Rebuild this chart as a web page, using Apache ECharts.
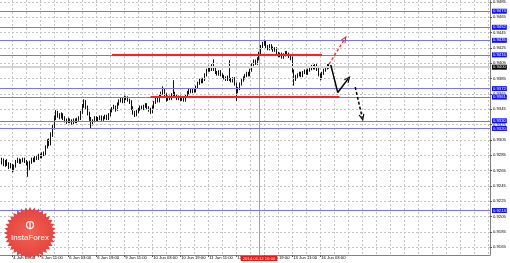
<!DOCTYPE html>
<html><head><meta charset="utf-8">
<script src="https://cdn.jsdelivr.net/npm/echarts@6/dist/echarts.min.js"></script>
<style>html,body{margin:0;padding:0;background:#fff}#c{width:510px;height:263px}</style>
</head><body><div id="c"></div>
<script>
// hourly candles [open, close, low, high]
const candles = [
[0.9274,0.9276,0.9270,0.9280],[0.9276,0.9279,0.9273,0.9282],[0.9279,0.9273,0.9271,0.9281],[0.9273,0.9277,0.9270,0.9279],
[0.9277,0.9274,0.9271,0.9280],[0.9274,0.9270,0.9267,0.9276],[0.9270,0.9272,0.9268,0.9275],[0.9272,0.9266,0.9263,0.9274],
[0.9266,0.9271,0.9264,0.9273],[0.9271,0.9277,0.9269,0.9279],[0.9277,0.9279,0.9275,0.9282],[0.9279,0.9276,0.9274,0.9281],
[0.9276,0.9278,0.9274,0.9280],[0.9278,0.9280,0.9276,0.9282],[0.9280,0.9277,0.9275,0.9282],[0.9277,0.9275,0.9272,0.9279],
[0.9275,0.9268,0.9257,0.9277],[0.9268,0.9276,0.9266,0.9278],[0.9276,0.9280,0.9274,0.9282],[0.9280,0.9278,0.9276,0.9282],
[0.9278,0.9282,0.9276,0.9284],[0.9282,0.9281,0.9279,0.9284],[0.9281,0.9285,0.9279,0.9287],[0.9285,0.9283,0.9281,0.9287],
[0.9283,0.9287,0.9281,0.9289],[0.9287,0.9286,0.9284,0.9290],[0.9286,0.9296,0.9284,0.9298],[0.9296,0.9303,0.9294,0.9306],
[0.9303,0.9300,0.9297,0.9307],[0.9300,0.9312,0.9298,0.9315],[0.9312,0.9322,0.9309,0.9325],[0.9322,0.9334,0.9319,0.9337],
[0.9334,0.9340,0.9331,0.9344],[0.9340,0.9337,0.9334,0.9343],[0.9337,0.9335,0.9332,0.9340],[0.9335,0.9338,0.9333,0.9341],
[0.9338,0.9334,0.9331,0.9340],[0.9334,0.9331,0.9328,0.9336],[0.9331,0.9329,0.9326,0.9333],[0.9329,0.9331,0.9327,0.9334],
[0.9331,0.9330,0.9327,0.9333],[0.9330,0.9327,0.9325,0.9332],[0.9327,0.9331,0.9325,0.9333],[0.9331,0.9329,0.9327,0.9333],
[0.9329,0.9332,0.9327,0.9334],[0.9332,0.9333,0.9330,0.9336],[0.9333,0.9341,0.9331,0.9343],[0.9341,0.9350,0.9339,0.9352],
[0.9350,0.9355,0.9347,0.9358],[0.9355,0.9348,0.9345,0.9357],[0.9348,0.9340,0.9337,0.9350],[0.9340,0.9333,0.9330,0.9342],
[0.9333,0.9326,0.9320,0.9335],[0.9326,0.9330,0.9324,0.9332],[0.9330,0.9334,0.9328,0.9336],[0.9334,0.9331,0.9329,0.9336],
[0.9331,0.9333,0.9329,0.9335],[0.9333,0.9335,0.9331,0.9337],[0.9335,0.9332,0.9330,0.9337],[0.9332,0.9334,0.9330,0.9336],
[0.9334,0.9336,0.9332,0.9338],[0.9336,0.9333,0.9331,0.9338],[0.9333,0.9338,0.9331,0.9340],[0.9338,0.9343,0.9336,0.9345],
[0.9343,0.9346,0.9341,0.9348],[0.9346,0.9348,0.9344,0.9351],[0.9348,0.9345,0.9342,0.9350],[0.9345,0.9352,0.9343,0.9354],
[0.9352,0.9356,0.9350,0.9358],[0.9356,0.9358,0.9354,0.9360],[0.9358,0.9355,0.9353,0.9360],[0.9355,0.9359,0.9353,0.9363],
[0.9359,0.9360,0.9357,0.9362],[0.9360,0.9357,0.9355,0.9362],[0.9357,0.9355,0.9352,0.9359],[0.9355,0.9347,0.9344,0.9357],
[0.9347,0.9341,0.9338,0.9349],[0.9341,0.9338,0.9335,0.9343],[0.9338,0.9342,0.9336,0.9344],[0.9342,0.9345,0.9340,0.9347],
[0.9345,0.9348,0.9343,0.9350],[0.9348,0.9346,0.9344,0.9350],[0.9346,0.9349,0.9344,0.9351],[0.9349,0.9351,0.9347,0.9353],
[0.9351,0.9347,0.9345,0.9353],[0.9347,0.9345,0.9342,0.9349],[0.9345,0.9341,0.9339,0.9347],[0.9341,0.9348,0.9340,0.9350],
[0.9348,0.9354,0.9346,0.9356],[0.9354,0.9359,0.9352,0.9361],[0.9359,0.9356,0.9354,0.9361],[0.9356,0.9362,0.9354,0.9364],
[0.9362,0.9366,0.9360,0.9368],[0.9366,0.9370,0.9364,0.9375],[0.9370,0.9364,0.9361,0.9372],[0.9364,0.9358,0.9355,0.9366],
[0.9358,0.9361,0.9356,0.9363],[0.9361,0.9359,0.9357,0.9363],[0.9359,0.9364,0.9357,0.9366],[0.9364,0.9366,0.9362,0.9383],
[0.9366,0.9362,0.9360,0.9368],[0.9362,0.9359,0.9357,0.9364],[0.9359,0.9361,0.9357,0.9363],[0.9361,0.9358,0.9356,0.9363],
[0.9358,0.9360,0.9356,0.9362],[0.9360,0.9357,0.9355,0.9362],[0.9357,0.9362,0.9355,0.9364],[0.9362,0.9367,0.9360,0.9369],
[0.9367,0.9370,0.9365,0.9372],[0.9370,0.9368,0.9366,0.9372],[0.9368,0.9371,0.9366,0.9373],[0.9371,0.9369,0.9367,0.9373],
[0.9369,0.9374,0.9367,0.9376],[0.9374,0.9379,0.9372,0.9381],[0.9379,0.9383,0.9377,0.9385],[0.9383,0.9381,0.9379,0.9386],
[0.9381,0.9384,0.9379,0.9386],[0.9384,0.9390,0.9382,0.9392],[0.9390,0.9396,0.9388,0.9398],[0.9396,0.9399,0.9394,0.9402],
[0.9399,0.9397,0.9394,0.9401],[0.9397,0.9401,0.9395,0.9404],[0.9401,0.9398,0.9395,0.9410],[0.9398,0.9393,0.9391,0.9400],
[0.9393,0.9391,0.9389,0.9395],[0.9391,0.9394,0.9389,0.9396],[0.9394,0.9390,0.9388,0.9396],[0.9390,0.9388,0.9386,0.9392],
[0.9388,0.9386,0.9384,0.9390],[0.9386,0.9384,0.9382,0.9388],[0.9384,0.9387,0.9382,0.9389],[0.9387,0.9384,0.9382,0.9409],
[0.9384,0.9382,0.9380,0.9386],[0.9382,0.9385,0.9380,0.9387],[0.9385,0.9378,0.9376,0.9387],[0.9378,0.9368,0.9356,0.9380],
[0.9368,0.9372,0.9366,0.9374],[0.9372,0.9378,0.9370,0.9380],[0.9378,0.9383,0.9376,0.9385],[0.9383,0.9386,0.9381,0.9388],
[0.9386,0.9389,0.9384,0.9391],[0.9389,0.9392,0.9387,0.9394],[0.9392,0.9390,0.9388,0.9394],[0.9390,0.9396,0.9388,0.9398],
[0.9396,0.9403,0.9394,0.9405],[0.9403,0.9408,0.9401,0.9410],[0.9408,0.9405,0.9403,0.9410],[0.9405,0.9411,0.9403,0.9413],
[0.9411,0.9418,0.9409,0.9420],[0.9418,0.9427,0.9416,0.9429],[0.9427,0.9430,0.9425,0.9433],[0.9430,0.9433,0.9428,0.9436],
[0.9433,0.9427,0.9425,0.9435],[0.9427,0.9424,0.9422,0.9429],[0.9424,0.9428,0.9422,0.9430],[0.9428,0.9425,0.9423,0.9430],
[0.9425,0.9422,0.9420,0.9427],[0.9422,0.9424,0.9420,0.9426],[0.9424,0.9418,0.9416,0.9426],[0.9418,0.9415,0.9413,0.9420],
[0.9415,0.9417,0.9413,0.9419],[0.9417,0.9413,0.9411,0.9419],[0.9413,0.9416,0.9411,0.9418],[0.9416,0.9419,0.9414,0.9421],
[0.9419,0.9417,0.9415,0.9421],[0.9417,0.9414,0.9412,0.9419],[0.9414,0.9412,0.9409,0.9416],[0.9412,0.9395,0.9393,0.9414],
[0.9395,0.9384,0.9376,0.9397],[0.9384,0.9388,0.9382,0.9390],[0.9388,0.9390,0.9386,0.9392],[0.9390,0.9392,0.9388,0.9394],
[0.9392,0.9389,0.9387,0.9394],[0.9389,0.9393,0.9387,0.9395],[0.9393,0.9395,0.9391,0.9397],[0.9395,0.9392,0.9390,0.9397],
[0.9392,0.9396,0.9390,0.9398],[0.9396,0.9398,0.9394,0.9400],[0.9398,0.9401,0.9396,0.9403],[0.9401,0.9399,0.9397,0.9403],
[0.9399,0.9402,0.9397,0.9404],[0.9402,0.9397,0.9395,0.9404],[0.9397,0.9390,0.9388,0.9399],[0.9390,0.9386,0.9383,0.9392],
[0.9386,0.9392,0.9384,0.9394],[0.9392,0.9396,0.9390,0.9398],[0.9396,0.9399,0.9394,0.9401],[0.9399,0.9402,0.9397,0.9404],
[0.9402,0.9400,0.9398,0.9404]
];
const timeLabels = ['4 Jun 19:00','5 Jun 11:00','6 Jun 03:00','6 Jun 19:00','9 Jun 11:00','10 Jun 03:00',
  '10 Jun 19:00','11 Jun 11:00','12 Jun 03:00','12 Jun 19:00','13 Jun 11:00','16 Jun 03:00'];
const labelFirstIndex = 7, labelStep = 16, gridStep = 8, totalBars = 281;
const priceTicks = [0.9165,0.9185,0.9205,0.9225,0.9245,0.9265,0.9285,0.9305,0.9325,0.9345,0.9365,0.9385,0.9405,0.9425,0.9445,0.9465,0.9485];
const blueLevels = [0.9473,0.9452,0.9435,0.9416,0.9372,0.9361,0.9330,0.9320,0.9213];
const currentPrice = 0.9400;
const redSegments = [[64,184,0.9416],[86,194,0.9361]];
const markerBar = 148, markerLabel = '2014.06.12 16:00';
const arrowRedDashed = [[188,0.9404],[197,0.9437]];
const arrowBlack = [[189,0.9403],[193,0.9367],[199,0.9385]];
const arrowBlackDashed = [[203,0.9374],[207,0.9334]];
const yMin = 0.91550, yMax = 0.94876;

const cats = []; for (let i = 0; i < totalBars; i++) cats.push(String(i));
const isLabel = i => i >= labelFirstIndex && (i - labelFirstIndex) % labelStep === 0 && (i - labelFirstIndex) / labelStep < timeLabels.length;
const isGrid = i => i >= labelFirstIndex && (i - labelFirstIndex) % gridStep === 0;
const chev = 'path://M0,10 L5,0 L10,10 L8,10 L5,4 L2,10 Z';

function segs(points, color, type, width) {
  const out = [];
  for (let k = 0; k < points.length - 1; k++) {
    const last = k === points.length - 2;
    out.push([
      {coord: points[k], symbol: 'none'},
      {coord: points[k+1], symbol: last ? chev : 'none', symbolSize: last ? [6,7] : 0,
       lineStyle: {color, type, width}}
    ]);
  }
  return out;
}

const chart = echarts.init(document.getElementById('c'), null, {renderer: 'canvas'});

// logo starburst (decoration)
const star = []; const cx = 30, cy = 233, spikes = 36;
for (let k = 0; k < spikes * 2; k++) {
  const r = k % 2 === 0 ? 26 : 22.5, a = Math.PI * k / spikes;
  star.push([cx + r * Math.cos(a), cy + r * Math.sin(a)]);
}

const font = 'Liberation Sans';
const fs = 4.2;
chart.setOption({
  animation: false,
  backgroundColor: '#fff',
  grid: {left: 0, right: 20, top: 0, bottom: 8, containLabel: false},
  xAxis: {
    type: 'category', data: cats, boundaryGap: false,
    axisLine: {show: true, lineStyle: {color: '#808080', width: 1}},
    axisTick: {show: true, interval: (i) => isLabel(i), length: 2, lineStyle: {color: '#555'}},
    axisLabel: {interval: (i) => isLabel(i), formatter: (v, i) => timeLabels[(i - labelFirstIndex) / labelStep] || '',
      align: 'left', margin: 1, fontSize: fs, color: '#000', fontFamily: font, padding: [0,0,0,1]},
    splitLine: {show: true, interval: (i) => isGrid(i), lineStyle: {color: '#c4c4c4', type: [2,2], width: 1}}
  },
  yAxis: {
    type: 'value', position: 'right', min: yMin, max: yMax, scale: true,
    axisLine: {show: true, lineStyle: {color: '#808080', width: 1}},
    axisTick: {show: true, customValues: priceTicks, length: 2, lineStyle: {color: '#555'}},
    axisLabel: {customValues: priceTicks, formatter: v => v.toFixed(4), fontSize: fs, color: '#000', margin: 3, fontFamily: font},
    splitLine: {show: false}
  },
  series: [
    {
      type: 'line', data: [], silent: true,
      markLine: {silent: true, symbol: 'none', animation: false, precision: 5,
        lineStyle: {color: '#c4c4c4', type: [2,2], width: 1}, label: {show: false},
        data: priceTicks.map(v => ({yAxis: v}))}
    },
    {
      type: 'line', data: [], silent: true,
      markLine: {silent: true, symbol: 'none', animation: false, precision: 5,
        lineStyle: {color: '#d4d4d4', type: 'solid', width: 2},
        label: {show: true, position: 'end', distance: 2, formatter: () => currentPrice.toFixed(4),
          backgroundColor: '#000', color: '#fff', fontSize: fs, padding: [1,1,0,1], fontFamily: font},
        data: [{yAxis: currentPrice}]}
    },
    {
      type: 'line', data: [], silent: true,
      markLine: {silent: true, symbol: 'none', animation: false, precision: 5,
        lineStyle: {color: '#f08080', type: 'solid', width: 1},
        label: {show: true, position: 'start', distance: 1, formatter: markerLabel,
          backgroundColor: '#ff1010', color: '#fff', fontSize: fs, padding: [1,2,0,2], fontFamily: font},
        data: [{xAxis: markerBar}]}
    },
    {
      type: 'line', data: [], silent: true, z: 3,
      markLine: {silent: true, symbol: 'none', animation: false, precision: 5,
        lineStyle: {color: '#7474ff', type: 'solid', width: 1},
        label: {show: true, position: 'end', distance: 2, formatter: p => Number(p.value).toFixed(4),
          backgroundColor: '#1010ff', color: '#fff', fontSize: fs, padding: [1,1,0,1], fontFamily: font},
        data: blueLevels.map(v => ({yAxis: v}))}
    },
    {
      type: 'candlestick', data: candles, barWidth: 1.2, z: 4,
      itemStyle: {color: '#ffffff', color0: '#000000', borderColor: '#111', borderColor0: '#111', borderWidth: 1},
      markLine: {silent: true, symbol: 'none', animation: false, precision: 5, label: {show: false},
        lineStyle: {color: '#ff2020', type: 'solid', width: 2},
        data: redSegments.map(s => [{coord: [s[0], s[2]]}, {coord: [s[1], s[2]]}])}
    },
    {
      type: 'line', data: [], silent: true, z: 6,
      markLine: {silent: true, symbol: 'none', animation: false, precision: 5, label: {show: false},
        data: [].concat(
          segs(arrowRedDashed, '#ff2020', [3,2], 1.2),
          segs(arrowBlack, '#000', 'solid', 1.5),
          segs(arrowBlackDashed, '#000', [3,2], 1.5))}
    }
  ],
  graphic: [
    {type: 'polygon', z: 100, shape: {points: star},
      style: {fill: new echarts.graphic.RadialGradient(0.5, 0.5, 0.5, [{offset: 0, color: '#f25a4a'}, {offset: 1, color: '#e23a34'}]), opacity: 0.95}},
    {type: 'circle', z: 101, shape: {cx: cx, cy: 225, r: 3.5}, style: {fill: 'none', stroke: '#fff', lineWidth: 1.2}},
    {type: 'line', z: 101, shape: {x1: cx, y1: 222, x2: cx, y2: 229.5}, style: {stroke: '#fff', lineWidth: 1.2}},
    {type: 'text', z: 101, x: cx, y: 238, style: {text: 'InstaForex', fill: '#fff', font: '8px "Liberation Sans"', align: 'center', verticalAlign: 'middle'}}
  ]
});
</script></body></html>
